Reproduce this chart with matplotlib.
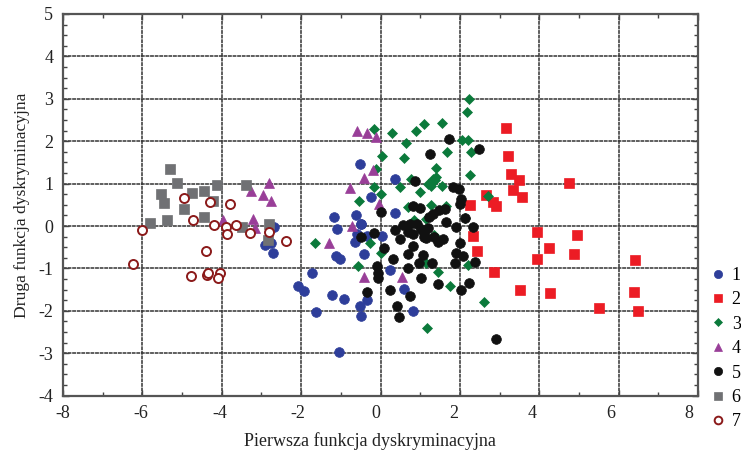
import matplotlib
matplotlib.use("Agg")
import matplotlib.pyplot as plt
import matplotlib.transforms as mtransforms
from matplotlib.ticker import MultipleLocator
from matplotlib.lines import Line2D

plt.rcParams['font.family'] = ['Liberation Serif', 'DejaVu Serif']
plt.rcParams['axes.unicode_minus'] = False

# Group 1
g1_x = [-0.52, 0.37, -0.25, -1.18, -0.62, -0.48, 0.37, -1.10, -0.60, -0.65, 0.03, -0.35,
        -1.13, -1.03, -0.42, -1.72, 0.23, -2.08, -1.93, -1.21, -0.92, -0.35, -0.52, -0.50,
        -1.63, 0.60, 0.82, -1.04, -2.69, -2.91, -2.77, -2.72, -0.50]
g1_y = [1.46, 1.12, 0.68, 0.21, 0.26, 0.05, 0.31, -0.06, -0.20, -0.37, -0.24, -0.23,
        -0.71, -0.79, -0.65, -1.10, -1.04, -1.42, -1.53, -1.63, -1.71, -1.75, -1.89, -2.12,
        -2.02, -1.49, -2.00, -2.96, -0.03, -0.45, -0.41, -0.63, 0.04]

# Group 2
g2_x = [3.16, 3.21, 3.28, 3.48, 4.74, 3.34, 3.57, 2.67, 2.84, 2.90, 2.25, 3.94, 4.94,
        2.33, 4.25, 4.87, 3.94, 6.42, 2.44, 2.86, 3.51, 4.26, 6.39, 5.51, 6.49]
g2_y = [2.30, 1.65, 1.23, 1.08, 1.02, 0.85, 0.69, 0.72, 0.56, 0.47, 0.50, -0.13, -0.21,
        -0.24, -0.51, -0.67, -0.78, -0.80, -0.58, -1.09, -1.51, -1.59, -1.55, -1.93, -2.00]

# Group 3
g3_x = [2.22, 2.19, 1.55, 1.10, 0.89, 0.29, -0.16, 0.65, 2.06, 2.21, 1.68, 2.29, 0.59,
        0.05, 1.41, 2.25, -0.12, 0.76, 1.33, 1.41, 1.28, 1.55, 0.50, -0.17, 0.02, 0.99,
        -0.55, 0.70, 1.28, 1.66, 2.70, 2.12, 0.85, 1.14, 1.34, -1.65, -0.27, 0.02, -0.56,
        1.14, 1.44, 1.76, 2.21, 2.60, 1.18, 1.37, 1.20]
g3_y = [3.00, 2.68, 2.42, 2.40, 2.25, 2.19, 2.28, 1.96, 2.04, 2.03, 1.75, 1.75, 1.60,
        1.66, 1.36, 1.20, 1.34, 1.10, 1.10, 1.16, 0.94, 0.94, 0.91, 0.91, 0.75, 0.81,
        0.60, 0.44, 0.50, 0.47, 0.71, 0.18, 0.13, 0.16, -0.21, -0.41, -0.39, -0.64, -0.94,
        -0.88, -1.09, -1.42, -0.92, -1.79, -2.40, 1.08, 1.00]

# Group 4
g4_x = [-2.81, -3.27, -2.97, -2.77, -3.96, -3.22, -3.17, -0.59, -0.35, -0.12, -0.20,
        -0.42, -0.77, -0.04, -0.72, -1.29, -0.42, 0.54]
g4_y = [1.01, 0.83, 0.73, 0.59, 0.14, 0.16, -0.05, 2.24, 2.19, 2.11, 1.32,
        1.14, 0.89, 0.53, 0.00, -0.41, -1.21, -1.21]

# Group 5
g5_x = [1.73, 2.48, 1.24, 0.86, 1.83, 1.97, 2.04, 2.00, 0.82, 0.99, 0.00, 1.32, 1.48,
        1.62, 1.22, 1.66, 0.93, 0.57, 2.12, 0.36, 0.70, 0.82, 1.03, 1.10, 1.10, 2.33,
        1.89, 1.34, 1.45, 1.58, -0.16, -0.48, 0.09, 0.82, 2.00, 0.32, 0.70, 1.07, 1.91,
        2.08, 0.97, 1.31, 1.88, 2.38, -0.10, -0.06, -0.06, 0.70, 1.01, 1.45, 2.23, 2.02,
        -0.34, 0.23, 0.74, 0.42, 0.47, 2.90, 1.14, 0.75, 1.20, 0.50]
g5_y = [2.05, 1.81, 1.70, 1.06, 0.91, 0.87, 0.63, 0.52, 0.47, 0.42, 0.32, 0.28, 0.38,
        0.39, 0.21, 0.10, 0.05, 0.02, 0.20, -0.09, -0.13, -0.19, -0.07, -0.17, -0.25, -0.02,
        -0.02, -0.27, -0.37, -0.31, -0.16, -0.25, -0.53, -0.47, -0.41, -0.78, -0.66, -0.68, -0.64,
        -0.71, -0.87, -0.87, -0.88, -0.84, -0.94, -1.10, -1.23, -1.00, -1.23, -1.37, -1.35, -1.51,
        -1.55, -1.51, -1.65, -1.89, -2.14, -2.67, -0.29, 0.05, -0.05, -0.30]

# Group 6
g6_x = [-5.31, -5.14, -5.52, -5.46, -4.76, -4.45, -4.12, -3.40, -4.22, -4.95, -4.45,
        -5.81, -5.38, -3.49, -2.81, -2.83]
g6_y = [1.34, 1.01, 0.75, 0.54, 0.79, 0.82, 0.96, 0.96, 0.60, 0.40, 0.22,
        0.08, 0.13, -0.03, 0.05, -0.33]

# Group 7
g7_x = [-4.95, -4.30, -3.79, -4.72, -4.20, -3.90, -3.63, -3.88, -3.29, -2.81, -2.39,
        -6.00, -4.40, -6.23, -4.77, -4.37, -4.34, -4.05, -4.09]
g7_y = [0.67, 0.57, 0.51, 0.13, 0.03, -0.03, 0.02, -0.19, -0.17, -0.13, -0.35,
        -0.09, -0.58, -0.90, -1.19, -1.16, -1.10, -1.10, -1.23]

group_labels = ['1', '2', '3', '4', '5', '6', '7']

fig = plt.figure(figsize=(7.41, 4.57), dpi=100)
ax = fig.add_axes([63 / 741, 1 - 395.6 / 457, (698 - 63) / 741, (395.6 - 14) / 457])

styles = [
    dict(marker='o', color='#2E3E9A', ms=7.0),
    dict(marker='s', color='#EC1C24', ms=6.5),
    dict(marker='D', color='#0B7A3B', ms=5.2),
    dict(marker='^', color='#993E98', ms=7.0),
    dict(marker='o', color='#111111', ms=7.0),
    dict(marker='s', color='#707174', ms=6.5),
    dict(marker='o', color='#8B1A1A', ms=6.5, open=True),
]
data = [(g1_x, g1_y), (g2_x, g2_y), (g3_x, g3_y), (g4_x, g4_y),
        (g5_x, g5_y), (g6_x, g6_y), (g7_x, g7_y)]

handles = []
for (xs, ys), st, lab in zip(data, styles, group_labels):
    if st.get('open'):
        kw = dict(markerfacecolor='white', markeredgecolor=st['color'], markeredgewidth=1.4)
    else:
        kw = dict(markerfacecolor=st['color'], markeredgecolor=st['color'], markeredgewidth=0.5)
    ax.plot(xs, ys, linestyle='none', marker=st['marker'], markersize=st['ms'], zorder=3, **kw)
    handles.append(Line2D([], [], linestyle='none', marker=st['marker'],
                          markersize=st['ms'] * 0.85, **kw))

ax.set_xlim(-8, 8)
ax.set_ylim(-4, 5)
ax.xaxis.set_major_locator(MultipleLocator(2))
ax.xaxis.set_minor_locator(MultipleLocator(1))
ax.yaxis.set_major_locator(MultipleLocator(1))
ax.yaxis.set_minor_locator(MultipleLocator(0.25))
ax.grid(True, which='major', color='#333333', linewidth=1.1, linestyle=(0, (2.5, 0.5)), zorder=1)
ax.set_axisbelow(True)
ax.tick_params(which='both', direction='in', top=True, right=True, colors='#444444',
               labelcolor='#222222', labelsize=13)
ax.tick_params(which='major', length=4, width=1.0, pad=7)
ax.tick_params(which='minor', length=3, width=1.0)
for sp in ax.spines.values():
    sp.set_color('#555555')
    sp.set_linewidth(1.6)

# x tick labels sit slightly left of their ticks, more so towards the right
fig.canvas.draw()
for v, lbl in zip(ax.get_xticks(), ax.get_xticklabels()):
    dx = -0.0142 * (v - (-8)) / 16 * 635
    lbl.set_transform(lbl.get_transform() + mtransforms.ScaledTranslation(dx / 100, 0, fig.dpi_scale_trans))

ax.set_xlabel('Pierwsza funkcja dyskryminacyjna', fontsize=13, color='#222222')
ax.xaxis.set_label_coords((370 - 63) / 635, (395.6 - 432) / 381.6)
ax.set_ylabel('Druga funkcja dyskryminacyjna', fontsize=12.6, color='#222222')
ax.yaxis.set_label_coords((30 - 63) / 635, (395.6 - 205) / 381.6)

fig.legend(handles, group_labels, loc='upper left', bbox_to_anchor=(710 / 741, 1 - 267 / 457),
           frameon=False, fontsize=13, handlelength=0.9, handletextpad=0.3,
           labelspacing=0.41, borderpad=0, borderaxespad=0)

fig.savefig('out.png', dpi=100)
